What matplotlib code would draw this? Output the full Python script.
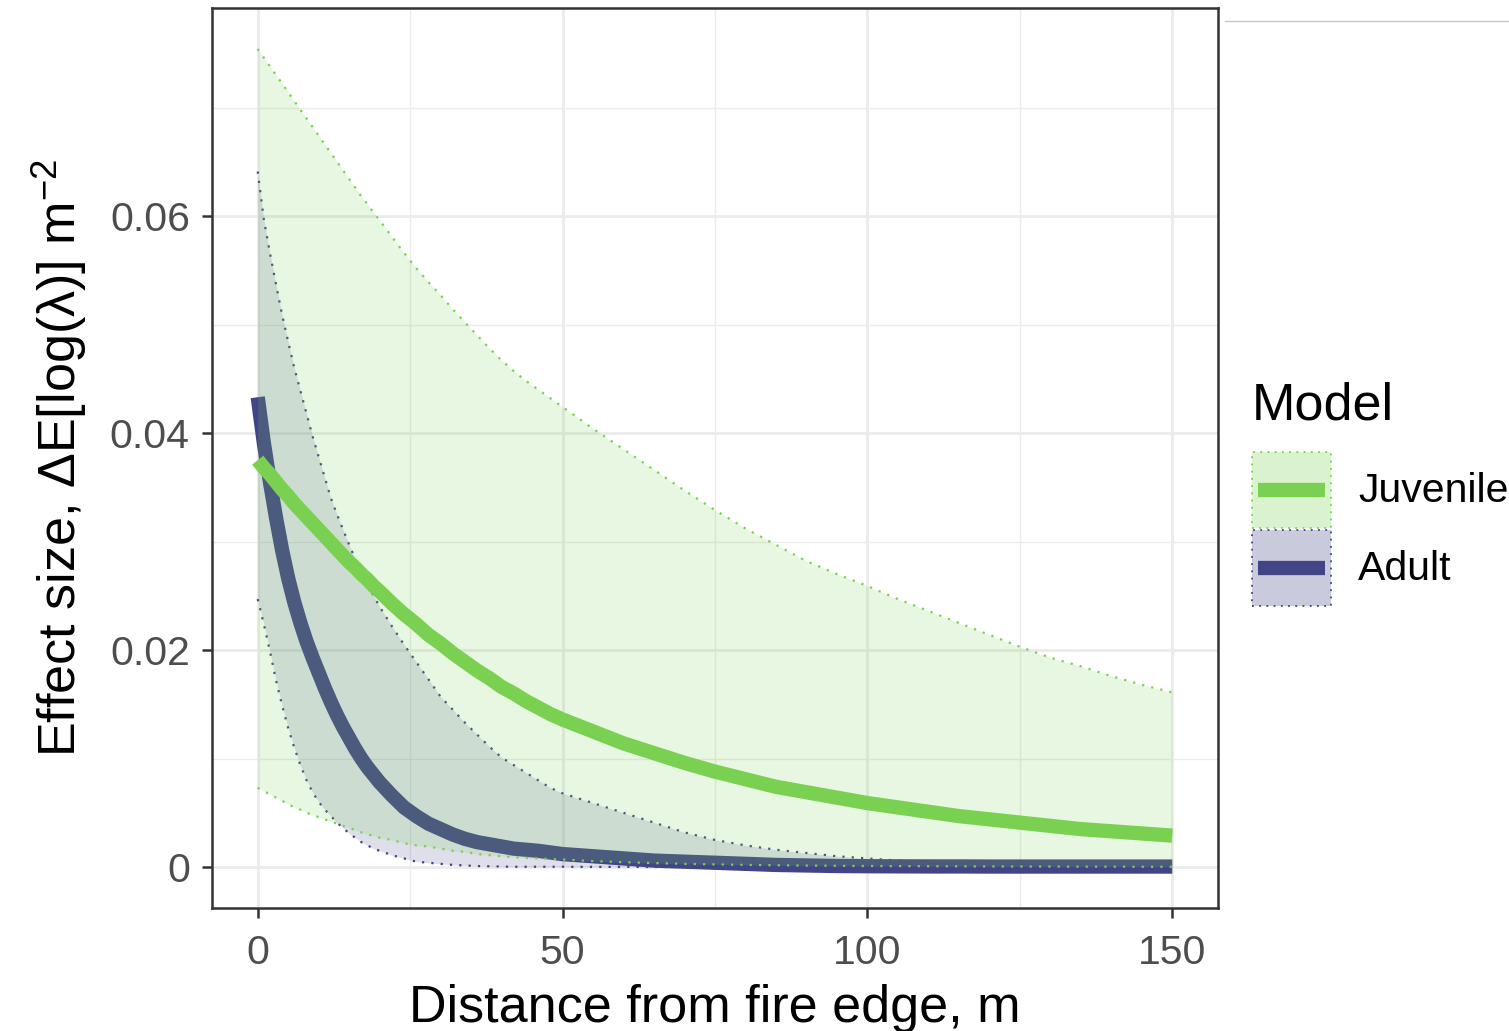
import matplotlib
matplotlib.use('Agg')
import matplotlib.pyplot as plt
from matplotlib.lines import Line2D
from matplotlib.patches import Rectangle
from matplotlib.colors import to_rgba
from matplotlib.legend_handler import HandlerBase

plt.rcParams['font.family'] = ['Liberation Sans', 'DejaVu Sans']
plt.rcParams['mathtext.fontset'] = 'custom'
plt.rcParams['mathtext.rm'] = 'Liberation Sans'
plt.rcParams['mathtext.it'] = 'Liberation Sans:italic'

# ---- data ----
distance = [0, 1, 2, 3, 4, 5, 6, 7, 8, 9, 10, 11, 12, 13, 14, 15, 16, 17, 18, 19, 20,
            22, 24, 26, 28, 30, 32, 34, 36, 38, 40, 42, 44, 46, 48, 50,
            55, 60, 65, 70, 75, 80, 85, 90, 95, 100, 105, 110, 115, 120, 125,
            130, 135, 140, 145, 150]

juv_mean = [0.0375, 0.0368, 0.0362, 0.0355, 0.0348, 0.0342, 0.0335, 0.0329, 0.0323,
            0.0317, 0.0311, 0.0305, 0.0299, 0.0293, 0.0287, 0.0281, 0.0276, 0.0270,
            0.0265, 0.0259, 0.0254,
            0.0243, 0.0233, 0.0224, 0.0214, 0.0206, 0.0197, 0.0189, 0.0181, 0.0174,
            0.0166, 0.0160, 0.0153, 0.0147, 0.0141, 0.0136,
            0.0125, 0.0114, 0.0105, 0.0096, 0.0088, 0.0081, 0.0074, 0.0069, 0.0064,
            0.0059, 0.0055, 0.0051, 0.0047, 0.0044, 0.0041, 0.0038, 0.0035, 0.0033,
            0.0031, 0.0029]
juv_upper = [0.0754, 0.0746, 0.0738, 0.0730, 0.0722, 0.0714, 0.0706, 0.0698, 0.0690,
             0.0682, 0.0674, 0.0666, 0.0658, 0.0650, 0.0642, 0.0634, 0.0626, 0.0618,
             0.0611, 0.0603, 0.0596,
             0.0581, 0.0566, 0.0552, 0.0539, 0.0527, 0.0514, 0.0502, 0.0490, 0.0478,
             0.0467, 0.0457, 0.0448, 0.0440, 0.0432, 0.0424,
             0.0404, 0.0385, 0.0366, 0.0347, 0.0329, 0.0312, 0.0297, 0.0282, 0.0270,
             0.0259, 0.0247, 0.0236, 0.0225, 0.0214, 0.0203, 0.0193, 0.0185, 0.0176,
             0.0168, 0.0161]
juv_lower = [0.0073, 0.0070, 0.0067, 0.0064, 0.0061, 0.0058, 0.0055, 0.0053, 0.0050,
             0.0048, 0.0046, 0.0044, 0.0042, 0.0040, 0.0038, 0.0036, 0.0034, 0.0032,
             0.0030, 0.0029, 0.0027,
             0.0025, 0.0022, 0.0020, 0.0019, 0.0017, 0.0015, 0.0014, 0.0012, 0.0011,
             0.0010, 0.0009, 0.00085, 0.0008, 0.00074, 0.0007,
             0.00055, 0.00045, 0.00037, 0.0003, 0.00025, 0.0002, 0.00017, 0.00014,
             0.00012, 0.0001, 0.00009, 0.00008, 0.00007, 0.00006, 0.00005, 0.00005,
             0.00004, 0.00004, 0.00003, 0.00003]

adu_mean = [0.0433, 0.0391, 0.0355, 0.0322, 0.0292, 0.0266, 0.0244, 0.0225, 0.0208,
            0.0193, 0.0179, 0.0165, 0.0152, 0.0140, 0.0129, 0.0119, 0.0109, 0.0100,
            0.0092, 0.0085, 0.0078,
            0.0066, 0.0055, 0.0047, 0.0040, 0.0035, 0.0030, 0.0026, 0.0023, 0.0021,
            0.0019, 0.0017, 0.0016, 0.0015, 0.00135, 0.0012,
            0.0010, 0.0008, 0.0006, 0.0005, 0.0004, 0.0003, 0.0002, 0.00015, 0.0001,
            0.00008, 0.00007, 0.00006, 0.00006, 0.00005, 0.00005, 0.00005, 0.00005,
            0.00005, 0.00005, 0.00005]
adu_upper = [0.0641, 0.0597, 0.0566, 0.0537, 0.0509, 0.0484, 0.0460, 0.0439, 0.0418,
             0.0397, 0.0378, 0.0359, 0.0340, 0.0325, 0.0311, 0.0297, 0.0284, 0.0272,
             0.0261, 0.0250, 0.0240,
             0.0222, 0.0205, 0.0189, 0.0173, 0.0157, 0.0145, 0.0133, 0.0122, 0.0111,
             0.0101, 0.0094, 0.0087, 0.0080, 0.0073, 0.0068,
             0.0059, 0.0050, 0.0041, 0.0032, 0.0025, 0.0020, 0.0016, 0.0013, 0.0010,
             0.0008, 0.0006, 0.0005, 0.0004, 0.0003, 0.00025, 0.0002, 0.00015,
             0.00012, 0.0001, 0.0001]
adu_lower = [0.0247, 0.0224, 0.0199, 0.0172, 0.0149, 0.0128, 0.0110, 0.0094, 0.0080,
             0.0069, 0.0060, 0.0053, 0.0047, 0.0041, 0.0036, 0.0031, 0.0027, 0.0023,
             0.0020, 0.0017, 0.0015,
             0.0011, 0.0008, 0.0005, 0.0004, 0.0003, 0.0002, 0.00015, 0.0001, 0.00007,
             0.00005, 0.00003, 0.00003, 0.00003, 0.00003, 0.00003,
             0.00002, 0.00002, 0.00001, 0.00001, 0.00001, 0.0, 0.0, 0.0, 0.0,
             0.0, 0.0, 0.0, 0.0, 0.0, 0.0, 0.0, 0.0, 0.0, 0.0, 0.0]

model_labels = ['Juvenile', 'Adult']
x_ticks = [0, 50, 100, 150]
x_ticklabels = ['0', '50', '100', '150']
y_ticks = [0, 0.02, 0.04, 0.06]
y_ticklabels = ['0', '0.02', '0.04', '0.06']

JUV = '#7AD151'
ADU = '#414487'
FILL_ALPHA = 0.17
LINE_W = 10.3
DOT_W = 1.6
DOTS = (0, (1, 3.2))

fig = plt.figure(figsize=(15.09, 10.31), dpi=100)
W, H = 1509, 1031
ax = fig.add_axes([212 / W, 1 - 908 / H, (1218 - 212) / W, (908 - 8) / H])

# adult ribbon + line
ax.fill_between(distance, adu_lower, adu_upper, color=ADU, alpha=FILL_ALPHA,
                linewidth=0, zorder=2)
ax.plot(distance, adu_upper, color=ADU, lw=DOT_W, ls=DOTS, zorder=2.1)
ax.plot(distance, adu_lower, color=ADU, lw=DOT_W, ls=DOTS, zorder=2.1)
ax.plot(distance, adu_mean, color=ADU, lw=LINE_W, solid_capstyle='butt',
        solid_joinstyle='round', zorder=3)

# juvenile ribbon + line
ax.fill_between(distance, juv_lower, juv_upper, color=JUV, alpha=FILL_ALPHA,
                linewidth=0, zorder=4)
ax.plot(distance, juv_upper, color=JUV, lw=DOT_W, ls=DOTS, zorder=4.1)
ax.plot(distance, juv_lower, color=JUV, lw=DOT_W, ls=DOTS, zorder=4.1)
ax.plot(distance, juv_mean, color=JUV, lw=LINE_W, solid_capstyle='butt',
        solid_joinstyle='round', zorder=5)

# scales with ggplot-like 5% expansion
allv = juv_upper + juv_lower + adu_upper + adu_lower + juv_mean + adu_mean
lo, hi = min(allv), max(allv)
pad = 0.05 * (hi - lo)
ax.set_ylim(lo - pad, hi + pad)
xpad = 0.05 * (max(distance) - min(distance))
ax.set_xlim(min(distance) - xpad, max(distance) + xpad)

ax.set_xticks(x_ticks)
ax.set_xticklabels(x_ticklabels)
ax.set_yticks(y_ticks)
ax.set_yticklabels(y_ticklabels)
ax.set_xticks([25, 75, 125], minor=True)
ax.set_yticks([0.01, 0.03, 0.05, 0.07], minor=True)
ax.grid(which='major', color='#EBEBEB', lw=2.0, zorder=0)
ax.grid(which='minor', color='#EBEBEB', lw=1.0, zorder=0)
ax.set_axisbelow(True)
ax.tick_params(which='minor', length=0)
ax.tick_params(which='major', direction='out', length=7, width=1.8,
               color='#333333', labelsize=29.5, labelcolor='#4D4D4D')
ax.tick_params(axis='x', which='major', pad=11.5)
ax.tick_params(axis='y', which='major', pad=9)
for sp in ax.spines.values():
    sp.set_color('#333333')
    sp.set_linewidth(1.8)
    sp.set_zorder(10)

ax.set_xlabel('Distance from fire edge, m', fontsize=37.5, labelpad=9)
ax.set_ylabel('Effect size, \u0394E[log(\u03bb)] m$^{-2}$', fontsize=37.5, labelpad=15)


# legend: ribbon box with the line across it
class RibbonLineHandler(HandlerBase):
    def create_artists(self, legend, orig_handle, xdescent, ydescent,
                       width, height, fontsize, trans):
        col = orig_handle.get_color()
        rect = Rectangle((-xdescent, -ydescent), width, height,
                         facecolor=to_rgba(col, 0.28), edgecolor=col,
                         linestyle=(0, (1, 3)), linewidth=1.3, transform=trans)
        yc = -ydescent + height / 2.0
        inset = 0.08 * width
        line = Line2D([-xdescent + inset, -xdescent + width - inset], [yc, yc],
                      color=col, lw=LINE_W, solid_capstyle='butt', transform=trans)
        return [rect, line]


handles = [Line2D([], [], color=JUV), Line2D([], [], color=ADU)]
leg = fig.legend(handles, model_labels, title='Model',
                 handler_map={Line2D: RibbonLineHandler()},
                 loc='upper left', bbox_to_anchor=(1252 / W, 1 - 382 / H),
                 frameon=False, fontsize=29.5, title_fontsize=37.5,
                 handlelength=1.93, handleheight=2.475, labelspacing=0.05,
                 handletextpad=0.66, borderpad=0, borderaxespad=0,
                 alignment='left')
leg._legend_box.sep = 15

# thin grey rule at top right of the reference image
fig.add_artist(Line2D([1225 / W, 1.0], [1 - 21 / H, 1 - 21 / H],
                      transform=fig.transFigure, color='#C8C8C8', lw=1.0))

fig.savefig('out.png', dpi=100)
